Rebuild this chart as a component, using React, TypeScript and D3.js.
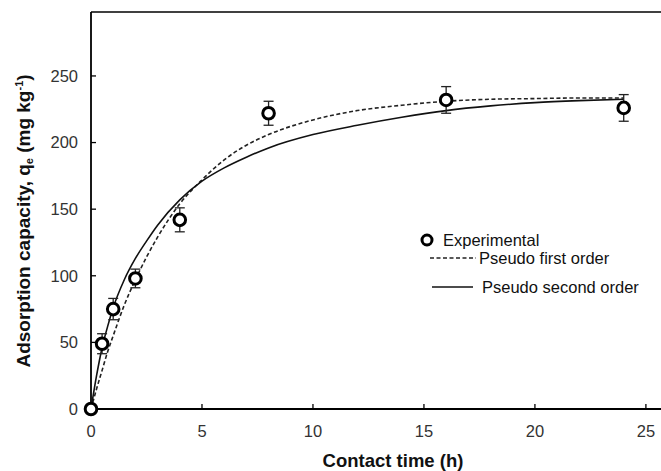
import React from 'react';
import * as d3 from 'd3';

// experimental points
const times = [0, 0.5, 1, 2, 4, 8, 16, 24];
const capacity = [0, 49, 75, 98, 142, 222, 232, 226];
const errors = [0, 7.5, 8, 7, 9, 9, 10, 10];

// fitted curves
const curveTimes = [0, 0.25, 0.5, 0.75, 1, 1.5, 2, 2.5, 3, 4, 5, 6, 7, 8, 10, 12, 14, 16, 18, 20, 22, 24];
const firstOrder = [0, 15, 29, 43, 55, 78, 97, 114, 129, 154, 172, 187, 198, 206, 217, 224, 228, 231, 232.5, 233, 233.5, 233.5];
const secondOrder = [0, 25, 46, 62, 76, 97, 113, 126, 138, 157, 171, 181, 189, 196, 206, 213, 219, 224, 227.5, 230, 231.5, 232.5];

const xTicks = [0, 5, 10, 15, 20, 25];
const yTicks = [0, 50, 100, 150, 200, 250];

const W = 661;
const H = 471;
const margin = { top: 12, right: 0, bottom: 62, left: 91 };

export default function App() {
  const x = d3.scaleLinear().domain([0, 25.68]).range([margin.left, W - margin.right]);
  const y = d3.scaleLinear().domain([0, 298]).range([H - margin.bottom, margin.top]);

  const line = d3.line<number>()
    .x((_, i) => x(curveTimes[i]))
    .curve(d3.curveMonotoneX);

  const foPath = line.y(d => y(d))(firstOrder) || '';
  const soPath = line.y(d => y(d))(secondOrder) || '';

  const font = 'Liberation Sans, Arial, sans-serif';
  const y0 = y(0);

  return (
    <svg width={W} height={H} style={{ position: 'absolute', left: 0, top: 0, background: '#fff' }} fontFamily={font}>
      {/* frame */}
      <line x1={margin.left} x2={W} y1={margin.top} y2={margin.top} stroke="#000" strokeWidth={1.6} />
      <line x1={margin.left} x2={margin.left} y1={margin.top} y2={y0} stroke="#000" strokeWidth={1.8} />
      <line x1={margin.left} x2={W} y1={y0} y2={y0} stroke="#000" strokeWidth={1.8} />

      {/* y ticks */}
      {yTicks.map(t => (
        <g key={'y' + t}>
          <line x1={margin.left} x2={margin.left + 5} y1={y(t)} y2={y(t)} stroke="#000" strokeWidth={1.3} />
          <text x={78} y={y(t)} dy="0.35em" textAnchor="end" fontSize={16.5} fill="#333">{t}</text>
        </g>
      ))}

      {/* x ticks */}
      {xTicks.map(t => (
        <g key={'x' + t}>
          <line x1={x(t)} x2={x(t)} y1={y0} y2={y0 - 5} stroke="#000" strokeWidth={1.3} />
          <text x={x(t)} y={437} textAnchor="middle" fontSize={16.5} fill="#333">{t}</text>
        </g>
      ))}

      {/* axis titles */}
      <text x={393} y={467} textAnchor="middle" fontSize={18.5} fontWeight="bold" fill="#111">Contact time (h)</text>
      <text transform={`translate(30,221) rotate(-90)`} textAnchor="middle" fontSize={19} fontWeight="bold" fill="#111">
        Adsorption capacity, q<tspan fontSize={11} dy={3}>e</tspan><tspan dy={-3}> (mg kg</tspan>
        <tspan fontSize={11} dy={-7}>-1</tspan><tspan dy={7}>)</tspan>
      </text>

      {/* fitted curves */}
      <path d={foPath} fill="none" stroke="#222" strokeWidth={1.6} strokeDasharray="4,2.5" />
      <path d={soPath} fill="none" stroke="#111" strokeWidth={1.6} />

      {/* error bars */}
      {times.map((t, i) => errors[i] > 0 && (
        <g key={'e' + i} stroke="#222" strokeWidth={1.3}>
          <line x1={x(t)} x2={x(t)} y1={y(capacity[i] - errors[i])} y2={y(capacity[i] + errors[i])} />
          <line x1={x(t) - 5} x2={x(t) + 5} y1={y(capacity[i] + errors[i])} y2={y(capacity[i] + errors[i])} />
          <line x1={x(t) - 5} x2={x(t) + 5} y1={y(capacity[i] - errors[i])} y2={y(capacity[i] - errors[i])} />
        </g>
      ))}

      {/* points */}
      {times.map((t, i) => (
        <circle key={'p' + i} cx={x(t)} cy={y(capacity[i])} r={5.8} fill="#fff" stroke="#000" strokeWidth={3} />
      ))}

      {/* legend */}
      <circle cx={427} cy={240} r={5} fill="#fff" stroke="#000" strokeWidth={3} />
      <text x={443} y={240} dy="0.35em" fontSize={16.5} fill="#111">Experimental</text>
      <line x1={430} x2={476} y1={258} y2={258} stroke="#222" strokeWidth={1.6} strokeDasharray="4,2.5" />
      <text x={479} y={258} dy="0.35em" fontSize={16.5} fill="#111">Pseudo first order</text>
      <line x1={432} x2={473} y1={287} y2={287} stroke="#111" strokeWidth={1.6} />
      <text x={482} y={287} dy="0.35em" fontSize={16.5} fill="#111">Pseudo second order</text>
    </svg>
  );
}
